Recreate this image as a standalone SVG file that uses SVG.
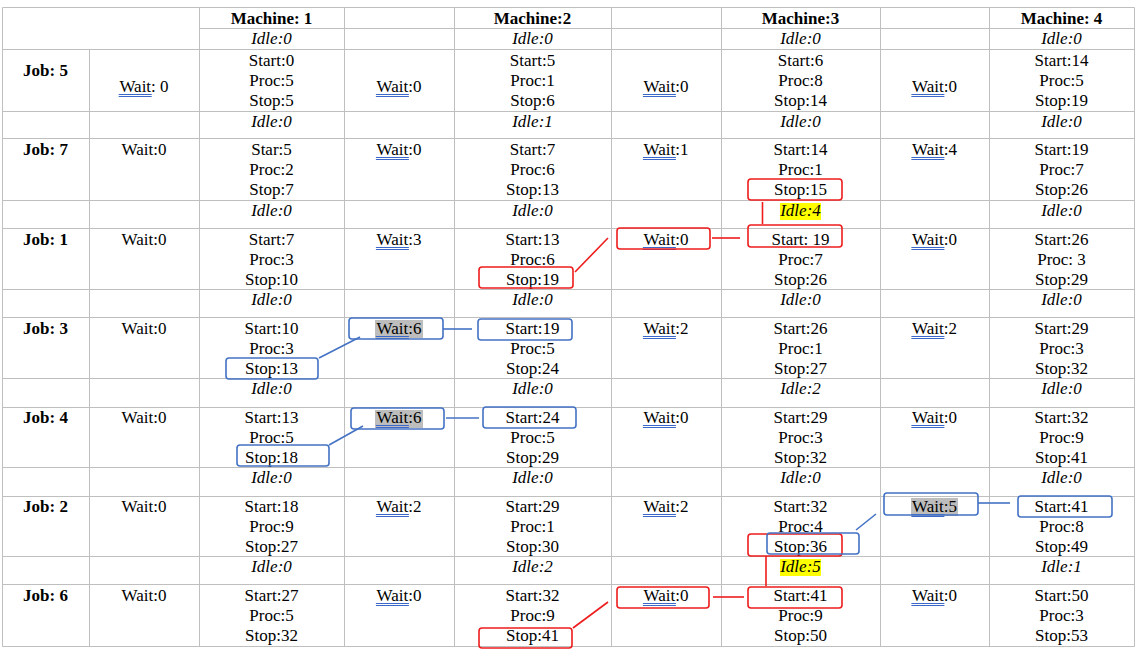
<svg xmlns="http://www.w3.org/2000/svg" xmlns:xlink="http://www.w3.org/1999/xlink" width="1140" height="651" viewBox="0 0 1140 651" font-family="'Liberation Serif', 'Times New Roman', serif" font-size="17">
<style>
text{fill:#000;text-anchor:middle}
.b{font-weight:bold}
.i{font-style:italic}
.grid line{stroke:#bfbfbf;stroke-width:1}
.ul{stroke:#3a67c8;stroke-width:1;fill:none}
.rb{fill:none;stroke:#ee1c1c;stroke-width:1.6}
.bb{fill:none;stroke:#4472c4;stroke-width:1.6}
.rl{stroke:#ee1c1c;stroke-width:1.6;fill:none}
.bl{stroke:#4472c4;stroke-width:1.6;fill:none}
.hg{fill:#bdbdbd}
.hy{fill:#ffff00}
</style>
<defs>
<path id="ul" class="ul" d="M0,2.5h33M0,4.5h33"/>
</defs>
<rect width="1140" height="651" fill="#fff"/>
<g class="grid" id="grid">
<line x1="2.5" y1="7.5" x2="1134.5" y2="7.5"/>
<line x1="199" y1="28.5" x2="1134.5" y2="28.5"/>
<line x1="2.5" y1="49.5" x2="1134.5" y2="49.5"/>
<line x1="2.5" y1="111.5" x2="1134.5" y2="111.5"/>
<line x1="2.5" y1="138.5" x2="1134.5" y2="138.5"/>
<line x1="2.5" y1="200.5" x2="1134.5" y2="200.5"/>
<line x1="2.5" y1="228.5" x2="1134.5" y2="228.5"/>
<line x1="2.5" y1="289.5" x2="1134.5" y2="289.5"/>
<line x1="2.5" y1="317.5" x2="1134.5" y2="317.5"/>
<line x1="2.5" y1="378.5" x2="1134.5" y2="378.5"/>
<line x1="2.5" y1="407.5" x2="1134.5" y2="407.5"/>
<line x1="2.5" y1="467.5" x2="1134.5" y2="467.5"/>
<line x1="2.5" y1="496.5" x2="1134.5" y2="496.5"/>
<line x1="2.5" y1="556.5" x2="1134.5" y2="556.5"/>
<line x1="2.5" y1="584.5" x2="1134.5" y2="584.5"/>
<line x1="2.5" y1="646.5" x2="1134.5" y2="646.5"/>
<line x1="2.5" y1="7.5" x2="2.5" y2="646.5"/>
<line x1="89.5" y1="49.5" x2="89.5" y2="646.5"/>
<line x1="199.5" y1="7.5" x2="199.5" y2="646.5"/>
<line x1="344.5" y1="7.5" x2="344.5" y2="646.5"/>
<line x1="454.5" y1="7.5" x2="454.5" y2="646.5"/>
<line x1="611.5" y1="7.5" x2="611.5" y2="646.5"/>
<line x1="721.5" y1="7.5" x2="721.5" y2="646.5"/>
<line x1="880.5" y1="7.5" x2="880.5" y2="646.5"/>
<line x1="989.5" y1="7.5" x2="989.5" y2="646.5"/>
<line x1="1134.5" y1="7.5" x2="1134.5" y2="646.5"/>
</g>

<g id="highlights">
<rect class="hg" x="375" y="320" width="48" height="18"/>
<rect class="hg" x="375" y="410" width="48" height="18"/>
<rect class="hg" x="911" y="498" width="47" height="18"/>
<rect class="hy" x="780" y="203" width="41" height="17"/>
<rect class="hy" x="780" y="559" width="41" height="17"/>
</g>

<g id="header">
<text class="b" x="271.5" y="24">Machine: 1</text>
<text class="b" x="532.5" y="24">Machine:2</text>
<text class="b" x="800.5" y="24">Machine:3</text>
<text class="b" x="1061.5" y="24">Machine: 4</text>
<text class="i" x="271.5" y="44">Idle:0</text>
<text class="i" x="532.5" y="44">Idle:0</text>
<text class="i" x="800.5" y="44">Idle:0</text>
<text class="i" x="1061.5" y="44">Idle:0</text>
</g>

<g id="job5">
<text class="b" x="45.5" y="76">Job: 5</text>
<g id="j5-w1"><text x="144" y="92">Wait: 0</text><use xlink:href="#ul" href="#ul" x="118.7" y="92"/></g>
<g id="j5-m1"><text x="271.5" y="66">Start:0<tspan x="271.5" dy="20">Proc:5</tspan><tspan x="271.5" dy="20">Stop:5</tspan></text></g>
<g id="j5-w2"><text x="399" y="92">Wait:0</text><use xlink:href="#ul" href="#ul" x="375.9" y="92"/></g>
<g id="j5-m2"><text x="532.5" y="66">Start:5<tspan x="532.5" dy="20">Proc:1</tspan><tspan x="532.5" dy="20">Stop:6</tspan></text></g>
<g id="j5-w3"><text x="666" y="92">Wait:0</text><use xlink:href="#ul" href="#ul" x="642.9" y="92"/></g>
<g id="j5-m3"><text x="800.5" y="66">Start:6<tspan x="800.5" dy="20">Proc:8</tspan><tspan x="800.5" dy="20">Stop:14</tspan></text></g>
<g id="j5-w4"><text x="934.5" y="92">Wait:0</text><use xlink:href="#ul" href="#ul" x="911.4" y="92"/></g>
<g id="j5-m4"><text x="1061.5" y="66">Start:14<tspan x="1061.5" dy="20">Proc:5</tspan><tspan x="1061.5" dy="20">Stop:19</tspan></text></g>
<text class="i" x="271.5" y="127">Idle:0</text>
<text class="i" x="532.5" y="127">Idle:1</text>
<text class="i" x="800.5" y="127">Idle:0</text>
<text class="i" x="1061.5" y="127">Idle:0</text>
</g>

<g id="job7">
<text class="b" x="45.5" y="155">Job: 7</text>
<g id="j7-w1"><text x="144" y="155">Wait:0</text></g>
<g id="j7-m1"><text x="271.5" y="155">Star:5<tspan x="271.5" dy="20">Proc:2</tspan><tspan x="271.5" dy="20">Stop:7</tspan></text></g>
<g id="j7-w2"><text x="399" y="155">Wait:0</text><use xlink:href="#ul" href="#ul" x="375.9" y="155"/></g>
<g id="j7-m2"><text x="532.5" y="155">Start:7<tspan x="532.5" dy="20">Proc:6</tspan><tspan x="532.5" dy="20">Stop:13</tspan></text></g>
<g id="j7-w3"><text x="666" y="155">Wait:1</text><use xlink:href="#ul" href="#ul" x="642.9" y="155"/></g>
<g id="j7-m3"><text x="800.5" y="155">Start:14<tspan x="800.5" dy="20">Proc:1</tspan><tspan x="800.5" dy="20">Stop:15</tspan></text><rect class="rb" x="748" y="179" width="94" height="21" rx="3"/></g>
<g id="j7-w4"><text x="934.5" y="155">Wait:4</text><use xlink:href="#ul" href="#ul" x="911.4" y="155"/></g>
<g id="j7-m4"><text x="1061.5" y="155">Start:19<tspan x="1061.5" dy="20">Proc:7</tspan><tspan x="1061.5" dy="20">Stop:26</tspan></text></g>
<text class="i" x="271.5" y="216">Idle:0</text>
<text class="i" x="532.5" y="216">Idle:0</text>
<text class="i" x="800.5" y="216">Idle:4</text>
<text class="i" x="1061.5" y="216">Idle:0</text>
</g>

<g id="job1">
<text class="b" x="45.5" y="245">Job: 1</text>
<g id="j1-w1"><text x="144" y="245">Wait:0</text></g>
<g id="j1-m1"><text x="271.5" y="245">Start:7<tspan x="271.5" dy="20">Proc:3</tspan><tspan x="271.5" dy="20">Stop:10</tspan></text></g>
<g id="j1-w2"><text x="399" y="245">Wait:3</text><use xlink:href="#ul" href="#ul" x="375.9" y="245"/></g>
<g id="j1-m2"><text x="532.5" y="245">Start:13<tspan x="532.5" dy="20">Proc:6</tspan><tspan x="532.5" dy="20">Stop:19</tspan></text><rect class="rb" x="479" y="267" width="94" height="21" rx="3"/></g>
<g id="j1-w3"><text x="666" y="245">Wait:0</text><use xlink:href="#ul" href="#ul" x="642.9" y="245"/><rect class="rb" x="617" y="228" width="93" height="21" rx="3"/></g>
<g id="j1-m3"><text x="800.5" y="245">Start: 19<tspan x="800.5" dy="20">Proc:7</tspan><tspan x="800.5" dy="20">Stop:26</tspan></text><rect class="rb" x="748" y="225" width="94" height="22" rx="3"/></g>
<g id="j1-w4"><text x="934.5" y="245">Wait:0</text><use xlink:href="#ul" href="#ul" x="911.4" y="245"/></g>
<g id="j1-m4"><text x="1061.5" y="245">Start:26<tspan x="1061.5" dy="20">Proc: 3</tspan><tspan x="1061.5" dy="20">Stop:29</tspan></text></g>
<text class="i" x="271.5" y="305">Idle:0</text>
<text class="i" x="532.5" y="305">Idle:0</text>
<text class="i" x="800.5" y="305">Idle:0</text>
<text class="i" x="1061.5" y="305">Idle:0</text>
</g>

<g id="job3">
<text class="b" x="45.5" y="334">Job: 3</text>
<g id="j3-w1"><text x="144" y="334">Wait:0</text></g>
<g id="j3-m1"><text x="271.5" y="334">Start:10<tspan x="271.5" dy="20">Proc:3</tspan><tspan x="271.5" dy="20">Stop:13</tspan></text><rect class="bb" x="226" y="358" width="92" height="21" rx="3"/></g>
<g id="j3-w2"><text x="399" y="334">Wait:6</text><use xlink:href="#ul" href="#ul" x="375.9" y="334"/><rect class="bb" x="349" y="318" width="94" height="21" rx="3"/></g>
<g id="j3-m2"><text x="532.5" y="334">Start:19<tspan x="532.5" dy="20">Proc:5</tspan><tspan x="532.5" dy="20">Stop:24</tspan></text><rect class="bb" x="478" y="319" width="94" height="21" rx="3"/></g>
<g id="j3-w3"><text x="666" y="334">Wait:2</text><use xlink:href="#ul" href="#ul" x="642.9" y="334"/></g>
<g id="j3-m3"><text x="800.5" y="334">Start:26<tspan x="800.5" dy="20">Proc:1</tspan><tspan x="800.5" dy="20">Stop:27</tspan></text></g>
<g id="j3-w4"><text x="934.5" y="334">Wait:2</text><use xlink:href="#ul" href="#ul" x="911.4" y="334"/></g>
<g id="j3-m4"><text x="1061.5" y="334">Start:29<tspan x="1061.5" dy="20">Proc:3</tspan><tspan x="1061.5" dy="20">Stop:32</tspan></text></g>
<text class="i" x="271.5" y="394">Idle:0</text>
<text class="i" x="532.5" y="394">Idle:0</text>
<text class="i" x="800.5" y="394">Idle:2</text>
<text class="i" x="1061.5" y="394">Idle:0</text>
</g>

<g id="job4">
<text class="b" x="45.5" y="423">Job: 4</text>
<g id="j4-w1"><text x="144" y="423">Wait:0</text></g>
<g id="j4-m1"><text x="271.5" y="423">Start:13<tspan x="271.5" dy="20">Proc:5</tspan><tspan x="271.5" dy="20">Stop:18</tspan></text><rect class="bb" x="237" y="445" width="92" height="21" rx="3"/></g>
<g id="j4-w2"><text x="399" y="423">Wait:6</text><use xlink:href="#ul" href="#ul" x="375.9" y="423"/><rect class="bb" x="351" y="408" width="93" height="21" rx="3"/></g>
<g id="j4-m2"><text x="532.5" y="423">Start:24<tspan x="532.5" dy="20">Proc:5</tspan><tspan x="532.5" dy="20">Stop:29</tspan></text><rect class="bb" x="483" y="407" width="93" height="21" rx="3"/></g>
<g id="j4-w3"><text x="666" y="423">Wait:0</text><use xlink:href="#ul" href="#ul" x="642.9" y="423"/></g>
<g id="j4-m3"><text x="800.5" y="423">Start:29<tspan x="800.5" dy="20">Proc:3</tspan><tspan x="800.5" dy="20">Stop:32</tspan></text></g>
<g id="j4-w4"><text x="934.5" y="423">Wait:0</text><use xlink:href="#ul" href="#ul" x="911.4" y="423"/></g>
<g id="j4-m4"><text x="1061.5" y="423">Start:32<tspan x="1061.5" dy="20">Proc:9</tspan><tspan x="1061.5" dy="20">Stop:41</tspan></text></g>
<text class="i" x="271.5" y="483">Idle:0</text>
<text class="i" x="532.5" y="483">Idle:0</text>
<text class="i" x="800.5" y="483">Idle:0</text>
<text class="i" x="1061.5" y="483">Idle:0</text>
</g>

<g id="job2">
<text class="b" x="45.5" y="512">Job: 2</text>
<g id="j2-w1"><text x="144" y="512">Wait:0</text></g>
<g id="j2-m1"><text x="271.5" y="512">Start:18<tspan x="271.5" dy="20">Proc:9</tspan><tspan x="271.5" dy="20">Stop:27</tspan></text></g>
<g id="j2-w2"><text x="399" y="512">Wait:2</text><use xlink:href="#ul" href="#ul" x="375.9" y="512"/></g>
<g id="j2-m2"><text x="532.5" y="512">Start:29<tspan x="532.5" dy="20">Proc:1</tspan><tspan x="532.5" dy="20">Stop:30</tspan></text></g>
<g id="j2-w3"><text x="666" y="512">Wait:2</text><use xlink:href="#ul" href="#ul" x="642.9" y="512"/></g>
<g id="j2-m3"><text x="800.5" y="512">Start:32<tspan x="800.5" dy="20">Proc:4</tspan><tspan x="800.5" dy="20">Stop:36</tspan></text><rect class="rb" x="748" y="534" width="94" height="22" rx="3"/><rect class="bb" x="767" y="533" width="92" height="21" rx="3"/></g>
<g id="j2-w4"><text x="934.5" y="512">Wait:5</text><use xlink:href="#ul" href="#ul" x="911.4" y="512"/><rect class="bb" x="884" y="493" width="94" height="22" rx="3"/></g>
<g id="j2-m4"><text x="1061.5" y="512">Start:41<tspan x="1061.5" dy="20">Proc:8</tspan><tspan x="1061.5" dy="20">Stop:49</tspan></text><rect class="bb" x="1018" y="496" width="94" height="21" rx="3"/></g>
<text class="i" x="271.5" y="572">Idle:0</text>
<text class="i" x="532.5" y="572">Idle:2</text>
<text class="i" x="800.5" y="572">Idle:5</text>
<text class="i" x="1061.5" y="572">Idle:1</text>
</g>

<g id="job6">
<text class="b" x="45.5" y="601">Job: 6</text>
<g id="j6-w1"><text x="144" y="601">Wait:0</text></g>
<g id="j6-m1"><text x="271.5" y="601">Start:27<tspan x="271.5" dy="20">Proc:5</tspan><tspan x="271.5" dy="20">Stop:32</tspan></text></g>
<g id="j6-w2"><text x="399" y="601">Wait:0</text><use xlink:href="#ul" href="#ul" x="375.9" y="601"/></g>
<g id="j6-m2"><text x="532.5" y="601">Start:32<tspan x="532.5" dy="20">Proc:9</tspan><tspan x="532.5" dy="20">Stop:41</tspan></text><rect class="rb" x="479" y="628" width="93" height="20" rx="3"/></g>
<g id="j6-w3"><text x="666" y="601">Wait:0</text><use xlink:href="#ul" href="#ul" x="642.9" y="601"/><rect class="rb" x="617" y="587" width="92" height="21" rx="3"/></g>
<g id="j6-m3"><text x="800.5" y="601">Start:41<tspan x="800.5" dy="20">Proc:9</tspan><tspan x="800.5" dy="20">Stop:50</tspan></text><rect class="rb" x="748" y="587" width="94" height="21" rx="3"/></g>
<g id="j6-w4"><text x="934.5" y="601">Wait:0</text><use xlink:href="#ul" href="#ul" x="911.4" y="601"/></g>
<g id="j6-m4"><text x="1061.5" y="601">Start:50<tspan x="1061.5" dy="20">Proc:3</tspan><tspan x="1061.5" dy="20">Stop:53</tspan></text></g>
</g>

<g id="connectors">
<line class="rl" x1="762.5" y1="202" x2="762.5" y2="224"/>
<line class="rl" x1="712" y1="238" x2="740" y2="238"/>
<line class="rl" x1="575" y1="272" x2="608" y2="238"/>
<line class="rl" x1="766" y1="556" x2="766" y2="586"/>
<line class="rl" x1="713" y1="597" x2="744" y2="597"/>
<line class="rl" x1="573" y1="628" x2="608" y2="602"/>
<line class="bl" x1="443" y1="329" x2="472" y2="329"/>
<line class="bl" x1="319" y1="358" x2="360" y2="337"/>
<line class="bl" x1="446" y1="418" x2="479" y2="418"/>
<line class="bl" x1="329" y1="445" x2="363" y2="426"/>
<line class="bl" x1="856" y1="530" x2="876" y2="514"/>
<line class="bl" x1="978" y1="503" x2="1010" y2="503"/>
</g>
</svg>
